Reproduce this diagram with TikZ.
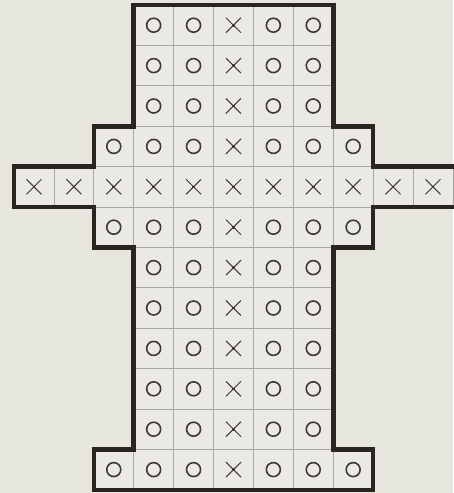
\documentclass[tikz,border=0pt]{standalone}
\usetikzlibrary{calc}
\definecolor{paper}{HTML}{E6E5DE}
\definecolor{cellbg}{HTML}{EAE9E3}
\definecolor{gridgray}{HTML}{A9A7A1}
\definecolor{ink}{HTML}{2B2522}
\definecolor{markink}{HTML}{3E3834}
\tikzset{
  cellbox/.style={fill=cellbg, draw=gridgray, line width=0.8pt},
  outline/.style={draw=ink, line width=4.6pt, line join=miter},
  oline/.style={draw=markink, line width=1.6pt},
  xline/.style={draw=markink, line width=1.0pt},
  xmark/.pic={\draw[xline] (-7.5pt,-7.5pt)--(7.5pt,7.5pt) (-7.5pt,7.5pt)--(7.5pt,-7.5pt);
              \fill[markink] (-1.3pt,-1.3pt) rectangle (1.3pt,1.3pt);},
  omark/.pic={\draw[oline] (0,0) circle (7pt);}
}
\begin{document}
\begin{tikzpicture}[x=1pt,y=-1pt]
\fill[paper] (0,0) rectangle (453,493);
\useasboundingbox (0,0) rectangle (453,493);
\def\cw{39.9}\def\rh{40.4}\def\xo{14}\def\yo{5}
% cells and marks
\foreach \j/\a/\b in {0/3/7,1/3/7,2/3/7,3/2/8,4/0/10,5/2/8,6/3/7,7/3/7,8/3/7,9/3/7,10/3/7,11/2/8}{
  \foreach \i in {\a,...,\b}{
    \draw[cellbox] ({\xo+\cw*\i},{\yo+\rh*\j}) rectangle ++(\cw,\rh);
    \coordinate (c-\i-\j) at ({\xo+\cw*(\i+0.5)},{\yo+\rh*(\j+0.5)});
    \ifnum\i=5
      \pic at (c-\i-\j) {xmark};
    \else\ifnum\j=4
      \pic at (c-\i-\j) {xmark};
    \else
      \pic at (c-\i-\j) {omark};
    \fi\fi
  }
}
% thick outline
\def\X#1{\xo+\cw*#1}\def\Y#1{\yo+\rh*#1}
\draw[outline]
  ({\X{3}},{\Y{0}}) -- ({\X{8}},{\Y{0}}) -- ({\X{8}},{\Y{3}}) -- ({\X{9}},{\Y{3}})
  -- ({\X{9}},{\Y{4}}) -- ({\X{11}+6},{\Y{4}}) -- ({\X{11}+6},{\Y{5}}) -- ({\X{9}},{\Y{5}})
  -- ({\X{9}},{\Y{6}}) -- ({\X{8}},{\Y{6}}) -- ({\X{8}},{\Y{11}}) -- ({\X{9}},{\Y{11}})
  -- ({\X{9}},{\Y{12}}) -- ({\X{2}},{\Y{12}}) -- ({\X{2}},{\Y{11}}) -- ({\X{3}},{\Y{11}})
  -- ({\X{3}},{\Y{6}}) -- ({\X{2}},{\Y{6}}) -- ({\X{2}},{\Y{5}}) -- ({\X{0}},{\Y{5}})
  -- ({\X{0}},{\Y{4}}) -- ({\X{2}},{\Y{4}}) -- ({\X{2}},{\Y{3}}) -- ({\X{3}},{\Y{3}})
  -- cycle;
\end{tikzpicture}
\end{document}
